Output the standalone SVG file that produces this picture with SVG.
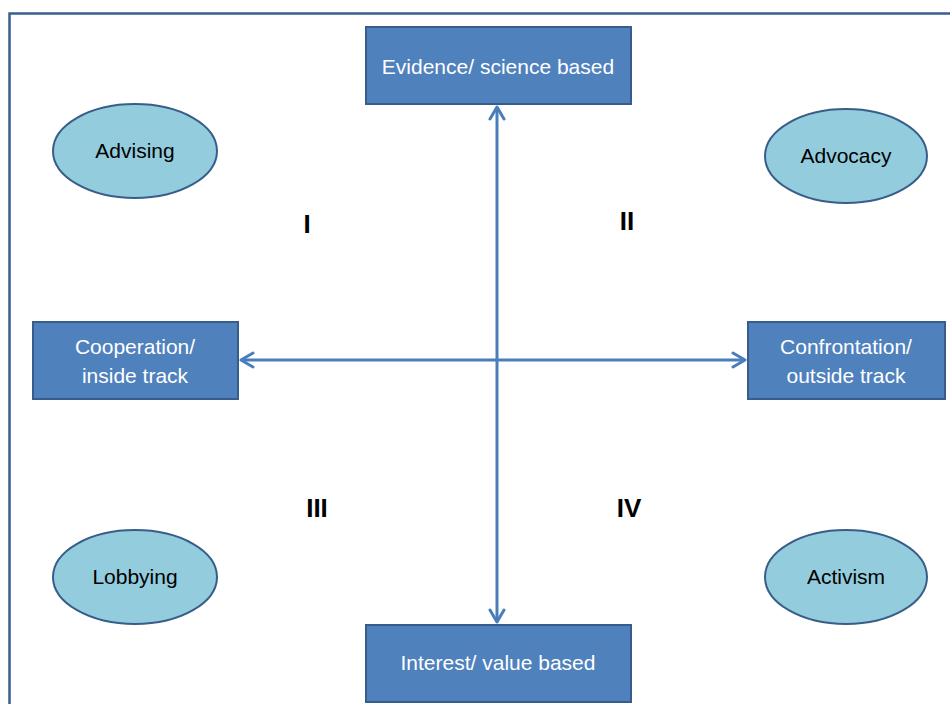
<svg xmlns="http://www.w3.org/2000/svg" width="950" height="704" viewBox="0 0 950 704">
<style>
.box{fill:#4F81BD;stroke:#385D8A;stroke-width:2}
.ell{fill:#93CDDD;stroke:#385D8A;stroke-width:2}
.bt{font-family:"Liberation Sans",Arial,sans-serif;font-size:21px;fill:#fff;text-anchor:middle}
.et{font-family:"Liberation Sans",Arial,sans-serif;font-size:21px;fill:#000;text-anchor:middle}
.q{font-family:"Liberation Sans",Arial,sans-serif;font-size:26px;font-weight:bold;fill:#000;text-anchor:middle}
.ax{stroke:#4A7EBB;stroke-width:3;fill:none}
</style>
<defs>
<marker id="ah" viewBox="0 0 16 18" refX="14" refY="9" markerWidth="16" markerHeight="18" markerUnits="userSpaceOnUse" orient="auto-start-reverse">
<path d="M2,2 L14,9 L2,16" fill="none" stroke="#4A7EBB" stroke-width="3" stroke-linecap="round" stroke-linejoin="round"/>
</marker>
</defs>
<rect width="950" height="704" fill="#fff"/>
<rect x="9.5" y="13.5" width="980" height="720" fill="none" stroke="#3A5F8F" stroke-width="2.5"/>
<g id="connectors">
<line class="ax" x1="497" y1="107" x2="497" y2="622" marker-start="url(#ah)" marker-end="url(#ah)"/>
<line class="ax" x1="241" y1="360" x2="745" y2="360" marker-start="url(#ah)" marker-end="url(#ah)"/>
</g>
<g id="top"><rect class="box" x="366" y="27" width="265" height="77"/><text class="bt" x="498" y="74">Evidence/ science based</text></g>
<g id="bottom"><rect class="box" x="366" y="625" width="265" height="77"/><text class="bt" x="498" y="670">Interest/ value based</text></g>
<g id="left"><rect class="box" x="33" y="322" width="205" height="77"/><text class="bt" x="135" y="354">Cooperation/</text><text class="bt" x="135" y="383">inside track</text></g>
<g id="right"><rect class="box" x="748" y="322" width="197" height="77"/><text class="bt" x="846" y="354">Confrontation/</text><text class="bt" x="846" y="383">outside track</text></g>
<g id="advising"><ellipse class="ell" cx="135" cy="151" rx="82" ry="47"/><text class="et" x="135" y="158">Advising</text></g>
<g id="advocacy"><ellipse class="ell" cx="846" cy="156" rx="81" ry="47"/><text class="et" x="846" y="163">Advocacy</text></g>
<g id="lobbying"><ellipse class="ell" cx="135" cy="577" rx="82" ry="47"/><text class="et" x="135" y="584">Lobbying</text></g>
<g id="activism"><ellipse class="ell" cx="846" cy="577" rx="81" ry="47"/><text class="et" x="846" y="584">Activism</text></g>
<g id="quadrants">
<text class="q" x="307" y="233">I</text>
<text class="q" x="627" y="230">II</text>
<text class="q" x="317" y="517">III</text>
<text class="q" x="629" y="517">IV</text>
</g>
</svg>
